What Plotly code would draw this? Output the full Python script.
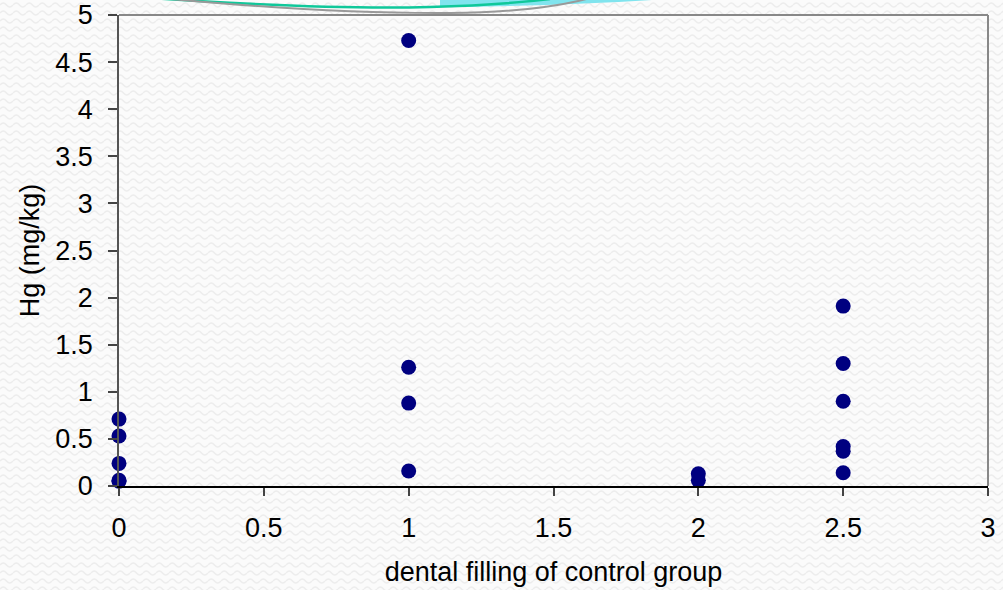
import base64
import plotly.graph_objects as go

# data
x_vals = [0, 0, 0, 0, 0,
          1, 1, 1, 1,
          2, 2,
          2.5, 2.5, 2.5, 2.5, 2.5, 2.5]
hg_vals = [0.71, 0.53, 0.24, 0.06, 0.05,
           4.73, 1.26, 0.88, 0.16,
           0.13, 0.06,
           1.91, 1.30, 0.90, 0.42, 0.37, 0.14]
x_ticks = [0, 0.5, 1, 1.5, 2, 2.5, 3]
y_ticks = [0, 0.5, 1, 1.5, 2, 2.5, 3, 3.5, 4, 4.5, 5]
x_title = "dental filling of control group"
y_title = "Hg (mg/kg)"

W, H = 1003, 590
L, R, T, B = 119, 15, 15, 104
pw, ph = W - L - R, H - T - B

def px(X):
    return (X - L) / pw

def py(Y):
    return (H - B - Y) / ph

# subtle wavy background texture
svg = (
    f'<svg xmlns="http://www.w3.org/2000/svg" width="{W}" height="{H}">'
    '<defs><pattern id="p" width="13" height="8" patternUnits="userSpaceOnUse">'
    '<rect width="13" height="8" fill="#fbfbfb"/>'
    '<path d="M0 5 Q3.25 1 6.5 5 T13 5" stroke="#ededed" stroke-width="1.3" fill="none"/>'
    '</pattern></defs>'
    f'<rect width="{W}" height="{H}" fill="url(#p)"/></svg>'
)
bg_src = "data:image/svg+xml;base64," + base64.b64encode(svg.encode()).decode()

fig = go.Figure()
fig.add_trace(go.Scatter(
    x=x_vals, y=hg_vals, mode="markers",
    marker=dict(color="#000080", size=15, line=dict(width=0)),
    cliponaxis=False, showlegend=False,
))

font = dict(family="Liberation Sans", size=27, color="#000000")

# decorative arcs at top (paper coords from pixel positions)
cyan = (f"M {px(440)},{py(-2)} L {px(655)},{py(-2)} L {px(652)},{py(0)} "
        f"Q {px(560)},{py(6)} {px(440)},{py(7)} Z")
teal = f"M {px(150)},{py(-2)} Q {px(330)},{py(10)} {px(430)},{py(7)} Q {px(500)},{py(5)} {px(550)},{py(-1)}"
gray = f"M {px(160)},{py(-2)} Q {px(330)},{py(14)} {px(450)},{py(13)} Q {px(540)},{py(12)} {px(590)},{py(-2)}"

fig.update_layout(
    width=W, height=H,
    margin=dict(l=L, r=R, t=T, b=B, autoexpand=False),
    paper_bgcolor="#f9f9f9",
    plot_bgcolor="rgba(0,0,0,0)",
    font=font,
    images=[dict(source=bg_src, xref="paper", yref="paper",
                 x=px(0), y=py(0), sizex=W / pw, sizey=H / ph,
                 xanchor="left", yanchor="top", sizing="stretch", layer="below")],
    xaxis=dict(
        range=[0, 3], tickvals=x_ticks, ticktext=[f"{v:g}" for v in x_ticks],
        showgrid=False, zeroline=False, automargin=False,
        showline=True, linecolor="#000000", linewidth=1.5,
        ticks="outside", ticklen=8, tickcolor="#444444", tickwidth=1.5,
        ticklabelstandoff=9,
        title=dict(text=x_title, font=font, standoff=20),
        tickfont=font,
    ),
    yaxis=dict(
        range=[0, 5], tickvals=y_ticks, ticktext=[f"{v:g}" for v in y_ticks],
        showgrid=False, zeroline=False, automargin=False,
        showline=True, linecolor="#555555", linewidth=1.5,
        ticks="outside", ticklen=9, tickcolor="#444444", tickwidth=1.5,
        ticklabelstandoff=10,
        title=dict(text=y_title, font=font, standoff=8),
        tickfont=font,
    ),
    shapes=[
        dict(type="line", xref="paper", yref="paper", x0=0, x1=1, y0=1, y1=1,
             line=dict(color="#888888", width=2), layer="above"),
        dict(type="line", xref="paper", yref="paper", x0=1, x1=1, y0=0, y1=1,
             line=dict(color="#888888", width=2), layer="above"),
        dict(type="path", xref="paper", yref="paper", path=cyan,
             fillcolor="#80e4ee", line=dict(width=0), layer="above"),
        dict(type="path", xref="paper", yref="paper", path=teal,
             line=dict(color="#10c89a", width=2.5), layer="above"),
        dict(type="path", xref="paper", yref="paper", path=gray,
             line=dict(color="#999999", width=2), layer="above"),
    ],
)

fig.write_html("out.html")
